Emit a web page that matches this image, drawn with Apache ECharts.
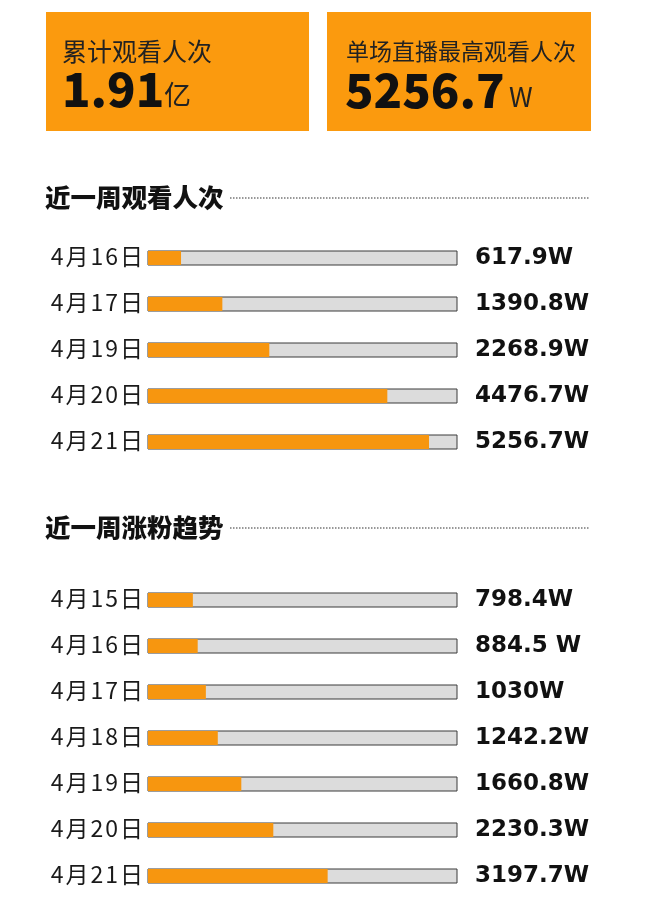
<!DOCTYPE html>
<html><head><meta charset="utf-8">
<script src="https://cdn.jsdelivr.net/npm/echarts@6/dist/echarts.min.js"></script>
<style>html,body{margin:0;padding:0;background:#fff}#c{width:668px;height:903px}</style>
</head><body><div id="c"></div>
<script>
const boxTitles = ['累计观看人次', '单场直播最高观看人次'];
const boxValues = ['1.91', '5256.7'];
const boxUnits = ['亿', 'W'];
const sectionTitles = ['近一周观看人次', '近一周涨粉趋势'];
const viewDates = ['4月16日', '4月17日', '4月19日', '4月20日', '4月21日'];
const viewValues = [617.9, 1390.8, 2268.9, 4476.7, 5256.7];
const viewLabels = ['617.9W', '1390.8W', '2268.9W', '4476.7W', '5256.7W'];
const fanDates = ['4月15日', '4月16日', '4月17日', '4月18日', '4月19日', '4月20日', '4月21日'];
const fanValues = [798.4, 884.5, 1030, 1242.2, 1660.8, 2230.3, 3197.7];
const fanLabels = ['798.4W', '884.5 W', '1030W', '1242.2W', '1660.8W', '2230.3W', '3197.7W'];

const ORANGE = '#f7960f';
const BOX = '#fb9a0e';
const CJK = '"Noto Sans CJK SC", sans-serif';
const chart = echarts.init(document.getElementById('c'));

function leftAxis(grid, data) {
  return {type: 'category', gridIndex: grid, data: data, inverse: true, position: 'left',
    axisLine: {show: false}, axisTick: {show: false},
    axisLabel: {margin: 4, fontSize: 23, color: '#1a1a1a', fontFamily: CJK,
      formatter: function (v) { return v.split('').map(function (ch) { return '{c|' + ch + '}'; }).join(''); },
      rich: {c: {fontSize: 23, color: '#1a1a1a', fontFamily: CJK, padding: [0, 1, 4, 1]}}}};
}
function rightAxis(grid, data) {
  return {type: 'category', gridIndex: grid, data: data, inverse: true, position: 'right',
    axisLine: {show: false}, axisTick: {show: false},
    axisLabel: {margin: 18, fontSize: 23, fontWeight: 'bold', color: '#111', fontFamily: '"DejaVu Sans", sans-serif', align: 'left'}};
}
function barSeries(xi, yi, data) {
  return {type: 'bar', xAxisIndex: xi, yAxisIndex: yi, data: data, barWidth: 14,
    itemStyle: {color: ORANGE}, showBackground: true,
    backgroundStyle: {color: '#dcdcdc', borderColor: '#3a3a3a', borderWidth: 1},
    silent: true, animation: false};
}

const graphics = [];
const boxX = [46, 327], boxW = [263, 264];
for (let i = 0; i < 2; i++) {
  graphics.push({type: 'rect', shape: {x: boxX[i], y: 12, width: boxW[i], height: 119}, style: {fill: BOX}});
  graphics.push({type: 'text', x: boxX[i] + 16 + (i ? 3 : 0), y: 51, style: {text: boxTitles[i], fontSize: i ? 23 : 25, fontFamily: CJK, fill: '#222', textVerticalAlign: 'middle'}});
}
graphics.push({type: 'text', x: 62, y: 89, style: {text: boxValues[0], fontSize: 47, fontWeight: 900, fontFamily: CJK, fill: '#111', textVerticalAlign: 'middle'}});
graphics.push({type: 'text', x: 164, y: 95, style: {text: boxUnits[0], fontSize: 27, fontFamily: CJK, fill: '#222', textVerticalAlign: 'middle'}});
graphics.push({type: 'text', x: 345, y: 90, style: {text: boxValues[1], fontSize: 47, fontWeight: 900, fontFamily: CJK, fill: '#111', textVerticalAlign: 'middle'}});
graphics.push({type: 'text', x: 509, y: 97, style: {text: boxUnits[1], fontSize: 27, fontFamily: CJK, fill: '#222', textVerticalAlign: 'middle'}});

const titleY = [197, 527];
for (let i = 0; i < 2; i++) {
  graphics.push({type: 'text', x: 45, y: titleY[i], style: {text: sectionTitles[i], fontSize: 25.5, fontWeight: 900, fontFamily: CJK, fill: '#111', textVerticalAlign: 'middle'}});
  graphics.push({type: 'line', shape: {x1: 230, y1: titleY[i] + 1, x2: 590, y2: titleY[i] + 1}, style: {stroke: '#333', lineWidth: 1.2, lineDash: [1.5, 1.5]}});
}

chart.setOption({
  animation: false,
  backgroundColor: '#fff',
  grid: [
    {left: 148, width: 309, top: 235, height: 230},
    {left: 148, width: 309, top: 577, height: 322}
  ],
  xAxis: [
    {type: 'value', gridIndex: 0, min: 0, max: 5780, show: false},
    {type: 'value', gridIndex: 1, min: 0, max: 5500, show: false}
  ],
  yAxis: [leftAxis(0, viewDates), rightAxis(0, viewLabels), leftAxis(1, fanDates), rightAxis(1, fanLabels)],
  series: [barSeries(0, 0, viewValues), barSeries(1, 2, fanValues)],
  graphic: graphics
});
</script></body></html>
